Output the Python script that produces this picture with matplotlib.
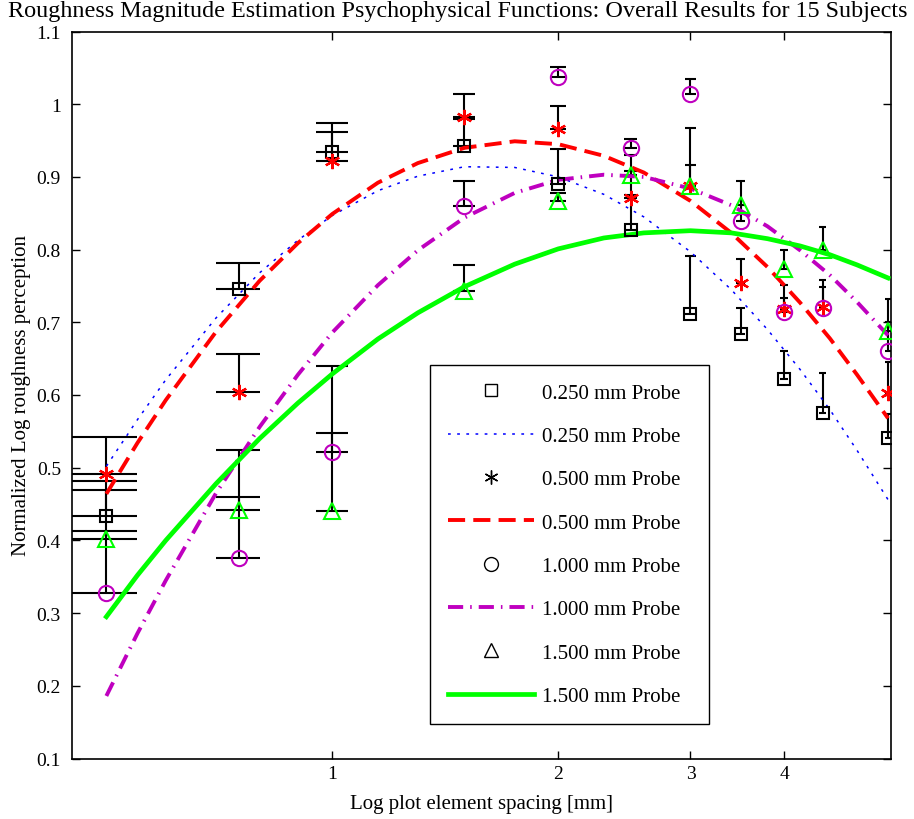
import matplotlib
matplotlib.use("Agg")
import matplotlib.pyplot as plt
from matplotlib.lines import Line2D
import numpy as np

plt.rcParams["font.family"] = ["Liberation Serif", "DejaVu Serif"]
plt.rcParams["font.size"] = 15

# measured element spacings [mm]
spacing = [0.5, 0.75, 1.0, 1.5, 2.0, 2.5, 3.0, 3.5, 4.0, 4.5, 5.5]

# mean normalized log roughness per probe
sq_y = [0.434, 0.7455, 0.934, 0.943, 0.890, 0.827, 0.711, 0.684, 0.622, 0.575, 0.541]
st_y = [0.491, 0.604, 0.922, 0.983, 0.966, 0.871, 0.887, 0.754, 0.718, 0.721, 0.603]
ci_y = [0.328, 0.376, 0.522, 0.860, 1.037, 0.940, 1.014, 0.840, 0.714, 0.719, 0.660]
tr_y = [0.402, 0.442, 0.440, 0.743, 0.867, 0.902, 0.888, 0.862, 0.773, 0.800, 0.688]

# upper end of the error bars
sq_hi = [0.469, 0.782, 0.962, 0.979, 0.939, 0.875, 0.791, 0.720, 0.660, 0.630, 0.574]
st_hi = [0.542, 0.657, 0.974, 1.014, 0.997, 0.908, 0.967, 0.787, 0.751, 0.758, 0.645]
ci_hi = [0.482, 0.524, 0.548, 0.895, 1.051, 0.952, 1.035, 0.862, 0.733, 0.748, 0.700]
tr_hi = [0.413, 0.460, 0.640, 0.779, 0.878, 0.930, 0.917, 0.895, 0.799, 0.831, 0.732]

fit_x = [0.5, 0.55, 0.6, 0.7, 0.8, 0.9, 1.0, 1.15, 1.3, 1.5, 1.75,
         2.0, 2.3, 2.6, 3.0, 3.4, 3.8, 4.2, 4.6, 5.0, 5.5]
fit_025 = [0.502, 0.566, 0.621, 0.706, 0.768, 0.813, 0.847, 0.881, 0.901, 0.914, 0.913,
           0.900, 0.876, 0.845, 0.797, 0.745, 0.690, 0.635, 0.580, 0.524, 0.456]
fit_050 = [0.464, 0.534, 0.593, 0.687, 0.757, 0.809, 0.849, 0.892, 0.919, 0.940, 0.949,
           0.945, 0.929, 0.906, 0.867, 0.823, 0.776, 0.727, 0.678, 0.628, 0.568]
fit_100 = [0.186, 0.272, 0.345, 0.465, 0.556, 0.628, 0.686, 0.751, 0.799, 0.844, 0.878,
           0.896, 0.903, 0.900, 0.884, 0.861, 0.832, 0.799, 0.765, 0.728, 0.682]
fit_150 = [0.295, 0.352, 0.400, 0.478, 0.540, 0.589, 0.629, 0.677, 0.713, 0.749, 0.780,
           0.801, 0.816, 0.823, 0.826, 0.823, 0.815, 0.805, 0.793, 0.779, 0.761]

labels = ["0.250 mm Probe", "0.500 mm Probe", "1.000 mm Probe", "1.500 mm Probe"]

MAG = "#bf00bf"
GRN = "#00ff00"
ls_025 = (0, (1.8, 4.2))
ls_050 = (0, (4.4, 2.1))
ls_100 = (0, (3.9, 1.8, 0.4, 1.8))

fig = plt.figure(figsize=(9.14, 8.2), dpi=100)
ax = fig.add_axes([72 / 914, 1 - 759.5 / 820, 819 / 914, 727 / 820])

x = np.array(spacing)
tee = (x.max() - x.min()) / 100
for ys, hi in [(sq_y, sq_hi), (st_y, st_hi), (ci_y, ci_hi), (tr_y, tr_hi)]:
    ys = np.array(ys)
    hi = np.array(hi)
    ax.vlines(x, ys, hi, color="k", lw=1.5, zorder=2)
    ax.hlines(ys, x - tee, x + tee, color="k", lw=1.5, zorder=2)
    ax.hlines(hi, x - tee, x + tee, color="k", lw=1.5, zorder=2)

ax.plot(fit_x, fit_025, color="b", ls=ls_025, lw=1.1, zorder=3)
ax.plot(fit_x, fit_050, color="r", ls=ls_050, lw=2.8, zorder=3)
ax.plot(fit_x, fit_100, color=MAG, ls=ls_100, lw=2.8, zorder=3)
ax.plot(fit_x, fit_150, color=GRN, ls="-", lw=3.4, zorder=3)

mk = dict(ls="none", mfc="none", zorder=4)
ax.plot(spacing, sq_y, marker="s", ms=9, mec="k", mew=1.5, **mk)
ax.plot(spacing, st_y, marker=(6, 2, 0), ms=11, mec="r", mew=1.6, **mk)
ax.plot(spacing, ci_y, marker="o", ms=11, mec=MAG, mew=1.5, **mk)
ax.plot(spacing, tr_y, marker="^", ms=11, mec=GRN, mew=1.5, **mk)

ax.set_xscale("log")
ax.set_xlim(0.45, 5.55)
ax.set_ylim(0.1, 1.1)
ax.set_xticks([1, 2, 3, 4])
ax.set_xticklabels(["1", "2", "3", "4"])
ax.xaxis.set_minor_locator(matplotlib.ticker.NullLocator())
ax.set_yticks(np.arange(0.1, 1.11, 0.1))
ax.set_yticklabels(["0.1", "0.2", "0.3", "0.4", "0.5", "0.6", "0.7", "0.8", "0.9", "1", "1.1"])
ax.tick_params(direction="in", length=6, width=1, top=True, right=True, labelsize=14)
ax.tick_params(axis="x", pad=5)
ax.tick_params(axis="y", pad=8)
for s in ax.spines.values():
    s.set_linewidth(1.2)

fig.text(8 / 914, 1 - 17.5 / 820,
         "Roughness Magnitude Estimation Psychophysical Functions: Overall Results for 15 Subjects",
         fontsize=17.4, ha="left", va="baseline")
ax.set_xlabel("Log plot element spacing [mm]")
ax.xaxis.set_label_coords(0.5, -0.0488)
ax.set_ylabel("Normalized Log roughness perception")
ax.yaxis.set_label_coords(-0.050, 0.5)

handles = [
    Line2D([], [], marker="s", color="k", ls="none", mfc="none", ms=8, mew=1),
    Line2D([], [], color="b", ls=ls_025, lw=1.1),
    Line2D([], [], marker=(6, 2, 0), color="k", ls="none", ms=10, mew=1),
    Line2D([], [], color="r", ls=ls_050, lw=2.8),
    Line2D([], [], marker="o", color="k", ls="none", mfc="none", ms=10, mew=1),
    Line2D([], [], color=MAG, ls=ls_100, lw=2.8),
    Line2D([], [], marker="^", color="k", ls="none", mfc="none", ms=10, mew=1),
    Line2D([], [], color=GRN, ls="-", lw=3.4),
]
leg_labels = [labels[0], labels[0], labels[1], labels[1], labels[2], labels[2], labels[3], labels[3]]
leg = ax.legend(handles, leg_labels, loc="upper left",
                bbox_to_anchor=(0.4371, 0.0, 0.3407, 0.5406), mode="expand",
                fancybox=False, framealpha=1, edgecolor="k", handlelength=4.13,
                labelspacing=1.14, borderpad=0.85, handletextpad=0.38, borderaxespad=0)
leg.get_frame().set_linewidth(1.0)

fig.savefig("out.png", dpi=100)
